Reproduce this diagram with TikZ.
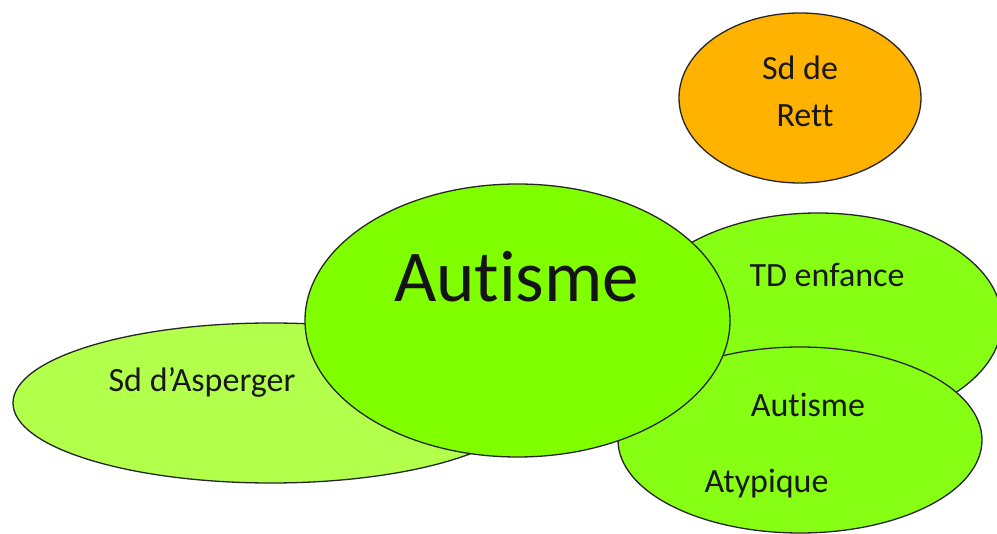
\documentclass[tikz,border=0pt]{standalone}
\usepackage{fontspec}
\setmainfont{Carlito}[Ligatures={NoCommon,NoContextual}]
\definecolor{rettc}{HTML}{FFB300}
\definecolor{autc}{HTML}{80FF00}
\definecolor{tdc}{HTML}{86FF14}
\definecolor{aspc}{HTML}{B2FF4C}
\tikzset{
  blob/.style={draw=black!85, line width=1.3pt},
  lbl/.style={anchor=base, inner sep=0pt, text=black!90, font=\fontsize{34}{40}\selectfont},
  biglbl/.style={anchor=base, inner sep=0pt, text=black!92, font=\fontsize{73}{80}\selectfont}
}
\begin{document}
\begin{tikzpicture}[x=1pt,y=-1pt]
\useasboundingbox (0,0) rectangle (997,534);
\fill[white] (0,0) rectangle (997,534);
\clip (0,0) rectangle (997,534);
% Asperger
\draw[blob, fill=aspc] (271,403) ellipse [x radius=258pt, y radius=80pt];
% TD enfance
\draw[blob, fill=tdc] (818,321) ellipse [x radius=184pt, y radius=108pt];
% Autisme atypique
\draw[blob, fill=tdc] (800,440) ellipse [x radius=182pt, y radius=93pt];
% Autisme
\draw[blob, fill=autc] (517.5,320.5) ellipse [x radius=212.5pt, y radius=136.5pt];
% Rett
\draw[blob, fill=rettc] (800,98) ellipse [x radius=121pt, y radius=85pt];
% labels
\node[biglbl] (aut) at (516.5,302) {Autisme};
\node[lbl] (td) at (827,287) {TD enfance};
\node[lbl] (aa1) at (808,417) {Autisme};
\node[lbl] (aa2) at (766.5,493) {Atypique};
\node[lbl] (asp) at (202,392) {Sd d’Asperger};
\node[lbl] (rett1) at (800,80) {Sd de};
\node[lbl] (rett2) at (805,127) {Rett};
\end{tikzpicture}
\end{document}
